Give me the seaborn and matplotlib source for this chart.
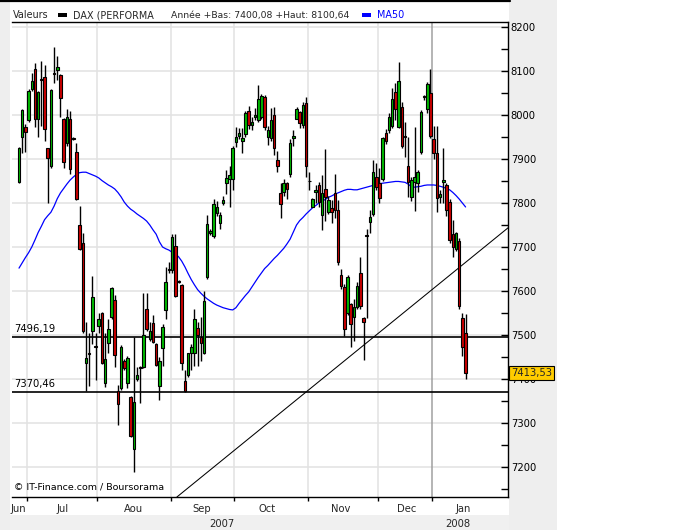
import numpy as np
import pandas as pd
import matplotlib
matplotlib.use("Agg")
import matplotlib.pyplot as plt
import matplotlib.transforms as mtransforms
from matplotlib.patches import Rectangle
from matplotlib.lines import Line2D
import seaborn as sns

# ---------------- data ----------------
opens = [7848, 7949, 7972, 7989, 8059, 8104, 7990, 8082, 8086, 7924,
         7883, 8096, 8103, 8092, 7991, 7936, 7991, 7948, 7917, 7749,
         7710, 7437, 7460, 7508, 7474, 7520, 7549, 7390, 7481, 7540,
         7580, 7373, 7379, 7442, 7390, 7360, 7240, 7399, 7427, 7428,
         7560, 7490, 7527, 7480, 7384, 7470, 7557, 7650, 7648, 7702,
         7622, 7614, 7395, 7409, 7458, 7460, 7515, 7496, 7460, 7631,
         7731, 7725, 7778, 7755, 7799, 7846, 7854, 7854, 7939, 7953,
         7942, 7957, 8010, 7977, 7995, 7989, 7996, 8042, 7949, 7947,
         7999, 7898, 7822, 7824, 7845, 7865, 7947, 7992, 8006, 7977,
         8027, 7851, 7792, 7826, 7841, 7773, 7831, 7780, 7788, 7822,
         7784, 7636, 7610, 7551, 7570, 7540, 7564, 7642, 7538, 7727,
         7756, 7774, 7860, 7845, 7854, 7960, 7966, 7975, 8053, 7972,
         8018, 7952, 7885, 7814, 7848, 7845, 7917, 8043, 8013, 8049,
         7945, 7914, 7814, 7847, 7841, 7803, 7730, 7695, 7714, 7538,
         7505]
highs = [7927, 8013, 7980, 8060, 8095, 8119, 8055, 8123, 8114, 7926,
         8058, 8155, 8134, 8094, 7993, 8013, 8009, 7950, 7936, 7793,
         7732, 7530, 7504, 7634, 7504, 7549, 7552, 7504, 7536, 7610,
         7590, 7386, 7478, 7446, 7452, 7362, 7496, 7428, 7430, 7595,
         7595, 7530, 7545, 7482, 7450, 7525, 7655, 7665, 7730, 7730,
         7625, 7616, 7420, 7460, 7480, 7560, 7530, 7540, 7600, 7773,
         7740, 7808, 7805, 7780, 7815, 7875, 7884, 7930, 7973, 7970,
         7970, 8010, 8020, 7995, 8015, 8068, 8048, 8045, 7975, 8015,
         8019, 7918, 7845, 7855, 7848, 7945, 7965, 8018, 8010, 8030,
         8040, 7870, 7812, 7840, 7848, 7864, 7922, 7815, 7807, 7867,
         7807, 7650, 7615, 7637, 7573, 7581, 7620, 7678, 7542, 7740,
         7784, 7898, 7890, 7880, 7950, 7968, 8005, 8061, 8072, 8121,
         8030, 7985, 7949, 7860, 7973, 7876, 8012, 8045, 8076, 8104,
         7975, 7975, 7830, 7924, 7845, 7810, 7761, 7735, 7720, 7551,
         7548]
lows = [7845, 7913, 7917, 7985, 8055, 7972, 7949, 7975, 7942, 7801,
        7880, 8072, 8080, 7996, 7880, 7930, 7867, 7944, 7806, 7693,
        7505, 7373, 7385, 7480, 7398, 7504, 7433, 7382, 7458, 7536,
        7428, 7295, 7376, 7420, 7379, 7268, 7189, 7396, 7345, 7425,
        7510, 7487, 7482, 7430, 7352, 7430, 7536, 7640, 7640, 7587,
        7618, 7420, 7370, 7405, 7420, 7430, 7430, 7440, 7457, 7628,
        7728, 7720, 7770, 7740, 7795, 7820, 7792, 7830, 7928, 7945,
        7913, 7950, 7968, 7967, 7989, 7985, 7990, 7965, 7932, 7940,
        7909, 7870, 7765, 7815, 7810, 7860, 7930, 7990, 7970, 7970,
        7860, 7830, 7790, 7800, 7790, 7739, 7760, 7775, 7754, 7765,
        7660, 7605, 7498, 7545, 7473, 7487, 7560, 7560, 7443, 7538,
        7731, 7770, 7830, 7800, 7850, 7935, 7960, 7970, 7989, 7970,
        7925, 7905, 7814, 7805, 7782, 7826, 7912, 8035, 8005, 7948,
        7900, 7780, 7800, 7800, 7770, 7710, 7678, 7690, 7560, 7452,
        7400.08]
closes = [7924, 8011, 7961, 8054, 8077, 7990, 8052, 8080, 7968, 7902,
          8056, 8094, 8108, 8039, 7894, 7995, 7877, 7946, 7808, 7695,
          7508, 7447, 7456, 7586, 7472, 7536, 7436, 7445, 7514, 7606,
          7455, 7343, 7473, 7424, 7447, 7270, 7348, 7409, 7425, 7500,
          7513, 7508, 7485, 7432, 7441, 7519, 7620, 7648, 7723, 7589,
          7620, 7436, 7373, 7458, 7473, 7536, 7500, 7481, 7577, 7752,
          7737, 7798, 7790, 7773, 7807, 7856, 7864, 7924, 7951, 7958,
          7947, 8004, 7977, 7983, 8000, 8036, 8043, 7972, 7966, 7989,
          7924, 7885, 7798, 7845, 7831, 7936, 7952, 8013, 7981, 8023,
          7884, 7849, 7808, 7829, 7803, 7822, 7814, 7807, 7780, 7784,
          7667, 7612, 7513, 7631, 7524, 7563, 7611, 7565, 7530, 7725,
          7768, 7871, 7837, 7811, 7947, 7942, 7996, 8036, 8013, 8078,
          7930, 7950, 7847, 7852, 7860, 7871, 8006, 8041, 8070, 7952,
          7913, 7811, 7820, 7852, 7784, 7716, 7700, 7732, 7566, 7472,
          7413.53]
ma50 = [7652, 7664, 7676, 7687, 7700, 7716, 7733, 7747, 7762, 7771,
        7779, 7793, 7810, 7823, 7833, 7843, 7852, 7859, 7865, 7869,
        7870, 7870, 7867, 7864, 7861, 7857, 7851, 7846, 7841, 7837,
        7832, 7824, 7814, 7802, 7793, 7786, 7781, 7775, 7770, 7765,
        7759, 7750, 7739, 7729, 7712, 7700, 7696, 7693, 7688, 7684,
        7678, 7668, 7655, 7640, 7626, 7614, 7603, 7595, 7588, 7582,
        7577, 7572, 7568, 7565, 7562, 7560, 7558, 7557, 7562, 7572,
        7581, 7590, 7598, 7609, 7620, 7631, 7641, 7651, 7658, 7666,
        7674, 7681, 7689, 7697, 7707, 7718, 7734, 7750, 7760, 7767,
        7775, 7782, 7789, 7794, 7800, 7804, 7808, 7813, 7816, 7820,
        7823, 7826, 7829, 7831, 7831, 7830, 7830, 7832, 7834, 7836,
        7838, 7840, 7842, 7844, 7845, 7846, 7847, 7848, 7849, 7849,
        7848, 7847, 7843, 7837, 7836, 7837, 7838, 7840, 7841, 7841,
        7841, 7840, 7838, 7836, 7833, 7830, 7824, 7817, 7809, 7800,
        7791]

month_labels = ['Jun', 'Jul', 'Aou', 'Sep', 'Oct', 'Nov', 'Dec', 'Jan']
month_start_idx = [3, 25, 48, 68, 91, 113, 130]
month_label_pos = [-0.3, 13.5, 35.8, 57.4, 77.7, 101, 121.4, 139.2]
year_labels = ['2007', '2008']
year_label_pos = [63.6, 137.6]
yticks_major = [7200, 7300, 7400, 7500, 7600, 7700, 7800, 7900, 8000, 8100, 8200]
support_levels = [7496.19, 7370.46]
support_labels = ['7496,19', '7370,46']
trend_pts_x = [72.1, 150.5]
trend_pts_y = [7265, 7727]
last_label = '7413,53'
header_title = 'DAX (PERFORMA'
header_range = 'Année +Bas: 7400,08 +Haut: 8100,64'

# ---------------- figure ----------------
W, H = 678, 530
sns.set_style("white")
plt.rcParams['font.family'] = ['DejaVu Sans']
fig = plt.figure(figsize=(W / 100, H / 100), dpi=100, facecolor='white')

def fx(px):
    return px / W

def fy(py):
    return 1 - py / H

# background panels (drawn beneath the axes)
for (x0, y0, w, h, col) in [(0, 0, 10, 530, '#EEEEEE'),
                            (509, 0, 48, 530, '#EEEEEE'),
                            (10, 515, 499, 15, '#F0F0F0')]:
    fig.patches.append(Rectangle((fx(x0), fy(y0 + h)), w / W, h / H,
                                 transform=fig.transFigure, facecolor=col,
                                 edgecolor='none', zorder=-5))
fig.lines.append(Line2D([0, fx(510)], [fy(0.8), fy(0.8)], transform=fig.transFigure,
                        color='black', lw=1.6, zorder=-4))

ax = fig.add_axes([fx(12), fy(497), fx(496), 475 / H])
ax.set_facecolor('white')

idx = np.arange(len(closes))
ax.set_xlim(-2.2, 153.3)
ax.set_ylim(7131.8, 8211.4)

# grid
for v in yticks_major:
    ax.axhline(v, color='#E2E2E2', lw=1.1, zorder=0)
for k, m in enumerate(month_start_idx):
    col = '#A0A0A0' if month_labels[k + 1] == 'Jan' else '#E2E2E2'
    ax.axvline(m - 0.5, color=col, lw=1.1, zorder=0)

# support lines and trend line
for lvl, lab in zip(support_levels, support_labels):
    ax.axhline(lvl, color='black', lw=1.2, zorder=1)
    ax.annotate(lab, xy=(0.004, lvl), xycoords=('axes fraction', 'data'),
                xytext=(0, 4.5), textcoords='offset pixels', fontsize=7.2,
                va='baseline', ha='left', color='black')
ax.axline((trend_pts_x[0], trend_pts_y[0]), (trend_pts_x[1], trend_pts_y[1]),
          color='black', lw=0.75, zorder=1)

# MA50
df_ma = pd.DataFrame({'i': idx, 'ma': ma50})
sns.lineplot(data=df_ma, x='i', y='ma', color='#0000FF', lw=0.9, ax=ax, zorder=2)

# candles
o = np.array(opens, float); c = np.array(closes, float)
hi = np.array(highs, float); lo = np.array(lows, float)
ax.vlines(idx, lo, hi, color='black', lw=1.0, zorder=3)
up = c >= o
bottoms = np.minimum(o, c)
heights = np.maximum(np.abs(c - o), 1.2)
colors = np.where(up, '#00BB00', '#CC0000')
ax.bar(idx, heights, bottom=bottoms, width=0.8, color=colors,
       edgecolor='black', linewidth=0.8, zorder=4)

# axes styling
for s in ['top', 'right', 'bottom']:
    ax.spines[s].set_visible(True)
    ax.spines[s].set_color('black')
    ax.spines[s].set_linewidth(1.0)
ax.spines['left'].set_visible(False)
ax.set_xlabel(''); ax.set_ylabel('')

yt = list(range(7150, 8201, 50))
ax.set_yticks(yt)
ax.set_yticklabels([str(v) if v % 100 == 0 else '' for v in yt])
ax.tick_params(axis='y', which='major', direction='in', length=5, width=1, color='black',
               pad=2, labelsize=7.2, labelcolor='black',
               right=True, left=False, labelright=True, labelleft=False)

ax.set_xticks([m - 0.5 for m in month_start_idx])
ax.set_xticklabels([])
ax.tick_params(axis='x', direction='out', length=3, width=1, color='black',
               bottom=True, labelbottom=False)

trans_x = mtransforms.blended_transform_factory(ax.transData, fig.transFigure)
for lab, p in zip(month_labels, month_label_pos):
    fig.text(p, fy(508.5), lab, transform=trans_x, fontsize=7.2, ha='center', va='center')
for lab, p in zip(year_labels, year_label_pos):
    fig.text(p, fy(524), lab, transform=trans_x, fontsize=7.2, ha='center', va='center')

# last price label (covers the 7400 label like in the reference)
ax.annotate(last_label, xy=(1.0, closes[-1]), xycoords=('axes fraction', 'data'),
            xytext=(3, 0), textcoords='offset pixels', fontsize=7.2, va='center', ha='left',
            bbox=dict(boxstyle='square,pad=0.2', facecolor='#FFCC00', edgecolor='black', lw=0.8),
            zorder=10, annotation_clip=False)

# copyright
ax.text(0.004, 0.012, '© IT-Finance.com / Boursorama', transform=ax.transAxes,
        fontsize=6.8, ha='left', va='bottom', color='black')

# header
fig.text(fx(13), fy(15.5), 'Valeurs', fontsize=6.9, va='center', ha='left')
fig.patches.append(Rectangle((fx(58), fy(17)), fx(9), 3.5 / H, transform=fig.transFigure,
                             facecolor='black', edgecolor='none'))
fig.text(fx(73), fy(15.5), header_title, fontsize=6.9, va='center', ha='left')
fig.text(fx(171), fy(15.5), header_range, fontsize=6.7, va='center', ha='left')
fig.patches.append(Rectangle((fx(362), fy(17)), fx(9), 3.5 / H, transform=fig.transFigure,
                             facecolor='#0000FF', edgecolor='none'))
fig.text(fx(377), fy(15.5), 'MA50', fontsize=6.9, va='center', ha='left', color='#0000FF')

fig.savefig('out.png', dpi=100, facecolor='white')
